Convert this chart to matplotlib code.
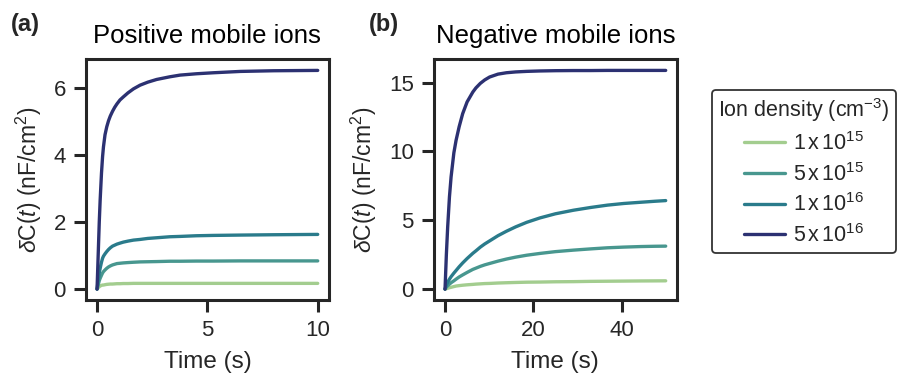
import numpy as np
import matplotlib
matplotlib.use("Agg")
import matplotlib.pyplot as plt
import seaborn as sns

# values
labels = ["1$\\,$x$\\,$10$^{15}$", "5$\\,$x$\\,$10$^{15}$", "1$\\,$x$\\,$10$^{16}$", "5$\\,$x$\\,$10$^{16}$"]
colors = ["#a3cd8f", "#48978f", "#2a7b8b", "#2c3172"]

# (a) positive mobile ions, time in s, dC in nF/cm^2
t_pos = [0, 0.05, 0.1, 0.14, 0.2, 0.25, 0.29, 0.36, 0.44, 0.52, 0.6, 0.7, 0.8, 0.9, 1.04, 1.19, 1.4, 1.65, 1.95, 2.3, 2.7, 3.3, 3.76, 4.5, 5.27, 6.5, 8.0, 10.0]
pos_1e15 = [0, 0.04, 0.07, 0.09, 0.11, 0.12, 0.12, 0.13, 0.14, 0.145, 0.15, 0.15, 0.155, 0.16, 0.16, 0.165, 0.165, 0.17, 0.17, 0.17, 0.17, 0.17, 0.17, 0.17, 0.17, 0.17, 0.17, 0.17]
pos_5e15 = [0, 0.12, 0.25, 0.32, 0.41, 0.48, 0.52, 0.57, 0.62, 0.66, 0.69, 0.72, 0.74, 0.76, 0.77, 0.78, 0.79, 0.8, 0.81, 0.815, 0.82, 0.83, 0.83, 0.835, 0.835, 0.84, 0.84, 0.84]
pos_1e16 = [0, 0.25, 0.48, 0.62, 0.8, 0.92, 0.98, 1.05, 1.12, 1.18, 1.23, 1.28, 1.31, 1.34, 1.37, 1.4, 1.43, 1.46, 1.48, 1.51, 1.53, 1.56, 1.57, 1.59, 1.6, 1.61, 1.62, 1.63]
pos_5e16 = [0, 1.0, 2.0, 2.65, 3.45, 3.95, 4.24, 4.6, 4.84, 5.02, 5.16, 5.3, 5.42, 5.52, 5.64, 5.73, 5.85, 5.97, 6.08, 6.17, 6.25, 6.33, 6.38, 6.42, 6.45, 6.49, 6.51, 6.52]

# (b) negative mobile ions
t_neg = [0, 0.3, 0.6, 1.0, 1.37, 2.0, 2.5, 3.2, 4.0, 5.0, 6.3, 7.0, 8.0, 9.0, 10.1, 12.0, 13.9, 16.0, 18.5, 21.5, 25.0, 29.1, 33.0, 36.8, 40.5, 44.4, 47.5, 50.0]
neg_1e15 = [0, 0.03, 0.06, 0.1, 0.13, 0.18, 0.22, 0.25, 0.28, 0.31, 0.34, 0.36, 0.38, 0.4, 0.41, 0.44, 0.46, 0.48, 0.5, 0.51, 0.53, 0.54, 0.56, 0.57, 0.58, 0.59, 0.595, 0.6]
neg_5e15 = [0, 0.14, 0.24, 0.36, 0.46, 0.6, 0.72, 0.88, 1.03, 1.21, 1.43, 1.52, 1.65, 1.76, 1.86, 2.03, 2.18, 2.32, 2.46, 2.59, 2.72, 2.83, 2.92, 3.0, 3.05, 3.09, 3.11, 3.12]
neg_1e16 = [0, 0.3, 0.5, 0.72, 0.9, 1.16, 1.35, 1.62, 1.9, 2.22, 2.6, 2.78, 3.05, 3.28, 3.5, 3.88, 4.2, 4.52, 4.85, 5.17, 5.47, 5.73, 5.93, 6.1, 6.22, 6.31, 6.38, 6.43]
neg_5e16 = [0, 2.5, 4.52, 6.7, 8.15, 9.9, 10.81, 11.8, 12.75, 13.6, 14.32, 14.62, 14.95, 15.2, 15.41, 15.62, 15.72, 15.78, 15.82, 15.85, 15.87, 15.88, 15.88, 15.89, 15.89, 15.89, 15.89, 15.89]

sns.set_style("ticks")
plt.rcParams["font.family"] = ["Liberation Sans", "DejaVu Sans"]
plt.rcParams["mathtext.fontset"] = "custom"
plt.rcParams["mathtext.rm"] = "Liberation Sans"
plt.rcParams["mathtext.it"] = "Liberation Sans:italic"
plt.rcParams["mathtext.bf"] = "Liberation Sans:bold"
dark = "#262626"

fig = plt.figure(figsize=(8.98, 3.83), dpi=100)
ax_a = fig.add_axes([0.0958, 0.2167, 0.2703, 0.628])
ax_b = fig.add_axes([0.4833, 0.2167, 0.2703, 0.628])

pos = [pos_1e15, pos_5e15, pos_1e16, pos_5e16]
neg = [neg_1e15, neg_5e15, neg_1e16, neg_5e16]
for i in range(4):
    ax_a.plot(t_pos, pos[i], color=colors[i], lw=2.4, label=labels[i])
    ax_b.plot(t_neg, neg[i], color=colors[i], lw=2.4)

ax_a.set_xticks([0, 5, 10])
ax_a.set_yticks([0, 2, 4, 6])
ax_b.set_xticks([0, 20, 40])
ax_b.set_yticks([0, 5, 10, 15])

ylab = r"$\delta$C($t$) (nF/cm$^2$)"
for ax, title in [(ax_a, "Positive mobile ions"), (ax_b, "Negative mobile ions")]:
    ax.set_title(title, fontsize=18.5, color="black", pad=12)
    ax.set_xlabel("Time (s)", fontsize=17.5, color=dark, labelpad=7)
    ax.set_ylabel(ylab, fontsize=16.5, color=dark, labelpad=7)
    ax.tick_params(labelsize=16, width=2.2, length=8.5, pad=6, colors=dark)
    for sp in ax.spines.values():
        sp.set_linewidth(2.2)
        sp.set_color(dark)

fig.text(0.012, 0.92, "(a)", fontsize=17, fontweight="bold")
fig.text(0.411, 0.92, "(b)", fontsize=17, fontweight="bold")

leg = fig.legend(*ax_a.get_legend_handles_labels(), loc="upper left",
                 bbox_to_anchor=(712 / 898, 1 - 90 / 383), borderaxespad=0,
                 title="Ion density (cm$^{-3}$)", fontsize=15.5, title_fontsize=15.5,
                 handlelength=1.9, handletextpad=0.4, labelspacing=0.36,
                 borderpad=0.3, frameon=True)
leg.get_frame().set_edgecolor("black")
leg.get_frame().set_linewidth(1.3)

fig.savefig("out.png", dpi=100)
